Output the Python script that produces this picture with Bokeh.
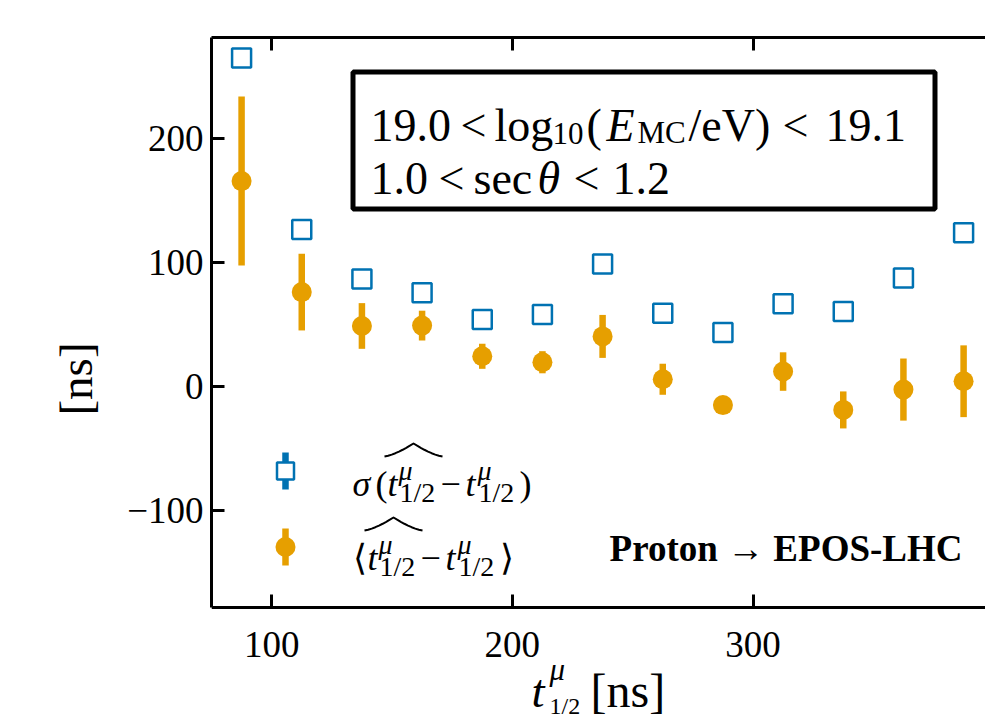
from bokeh.plotting import figure
from bokeh.models import LinearAxis, Label, BoxAnnotation, Range1d, FixedTicker
from bokeh.embed import file_html
from bokeh.resources import INLINE

# Bin centres of t_1/2^mu [ns]
t_half = [87.5, 112.5, 137.5, 162.5, 187.5, 212.5, 237.5,
          262.5, 287.5, 312.5, 337.5, 362.5, 387.5]
# Spread of the reconstructed minus true t_1/2 [ns]
sigma_res = [264.4, 126.3, 86.6, 75.4, 54.0, 57.9, 98.7,
             59.0, 43.4, 66.5, 60.3, 87.4, 123.7]
# Mean of the reconstructed minus true t_1/2 [ns] and its uncertainty
mean_res = [165.4, 76.0, 48.7, 49.0, 24.3, 19.5, 40.3,
            5.8, -15.0, 12.0, -18.9, -2.5, 4.2]
mean_err = [68.1, 30.9, 18.4, 12.0, 10.1, 8.9, 17.3,
            12.5, 5.0, 15.5, 14.9, 25.0, 28.9]

x_ticks = [100, 200, 300, 400]
y_ticks = [-100, 0, 100, 200]

BLUE = "#0072B2"
ORANGE = "#E69F00"
SERIF = "Liberation Serif"

W, H = 985, 720
# frame box in page pixels; the axes box ends at AXB, the frame runs on to the page bottom
FL, FR, FT, AXB = 211, 985, 37, 607
X0, X1 = 75.0, 396.6
Y0, Y1 = -178.0, 281.0
UPP = (Y1 - Y0) / (AXB - FT)          # data units per pixel (vertical)
YB = Y0 - (H - AXB) * UPP              # data value at the page bottom


def dx(px):
    return X0 + (px - FL) / (FR - FL) * (X1 - X0)


def dy(py):
    return Y1 - (py - FT) * UPP


p = figure(width=W, height=H, x_range=Range1d(X0, X1), y_range=Range1d(YB, Y1),
           output_backend="svg", toolbar_location=None, x_axis_location=None,
           min_border_left=FL, min_border_right=0, min_border_top=FT,
           min_border_bottom=0)
p.outline_line_color = None
p.xgrid.visible = False
p.ygrid.visible = False
p.background_fill_color = "white"
p.border_fill_color = "white"

bottom_axis = LinearAxis(fixed_location=Y0, ticker=FixedTicker(ticks=x_ticks))
p.add_layout(bottom_axis, "below")
top_axis = LinearAxis(ticker=FixedTicker(ticks=x_ticks))
p.add_layout(top_axis, "above")
left_axis = p.yaxis[0]
left_axis.ticker = FixedTicker(ticks=y_ticks)
left_axis.bounds = (Y0, Y1)

for ax in [bottom_axis, top_axis, left_axis]:
    ax.axis_line_width = 3
    ax.axis_line_color = "black"
    ax.major_tick_in = 13
    ax.major_tick_out = 0
    ax.major_tick_line_width = 3
    ax.major_tick_line_color = "black"
    ax.minor_tick_line_color = None
    ax.major_label_text_font = SERIF
    ax.major_label_text_font_size = "37px"
    ax.major_label_text_color = "black"

top_axis.major_label_overrides = {t: "" for t in x_ticks}
top_axis.major_label_standoff = 0
left_axis.major_label_overrides = {-100: "\u2212100"}
bottom_axis.major_label_standoff = 24
left_axis.major_label_standoff = 8

left_axis.axis_label = "[ns]"
left_axis.axis_label_text_font = SERIF
left_axis.axis_label_text_font_size = "47px"
left_axis.axis_label_text_font_style = "normal"
left_axis.axis_label_text_color = "black"
left_axis.axis_label_standoff = 22

# data
lo = [m - e for m, e in zip(mean_res, mean_err)]
hi = [m + e for m, e in zip(mean_res, mean_err)]
p.scatter(t_half, sigma_res, marker="square", size=19, fill_color="white",
          line_color=BLUE, line_width=2.5)
p.segment(x0=t_half, y0=lo, x1=t_half, y1=hi, line_color=ORANGE,
          line_width=6.5, line_cap="butt")
p.scatter(t_half, mean_res, marker="circle", size=20, fill_color=ORANGE,
          line_color=None)


def tex(text, px, py, size, style="normal", align="left"):
    p.add_layout(Label(x=dx(px), y=dy(py), text=text, text_font=SERIF,
                       text_font_size=f"{size}px", text_font_style=style,
                       text_baseline="alphabetic", text_align=align,
                       text_color="black"))


def wide_hat(x_left, x_right, y_base, y_peak, n=8):
    """Slightly concave circumflex accent spanning x_left..x_right (page px)."""
    xs, ys = [], []
    xm = 0.5 * (x_left + x_right)
    for i in range(n + 1):
        f = i / n
        xs.append(x_left + f * (xm - x_left))
        ys.append(y_base - (y_base - y_peak) * f ** 1.4)
    for i in range(n - 1, -1, -1):
        f = i / n
        xs.append(x_right - f * (x_right - xm))
        ys.append(y_base - (y_base - y_peak) * f ** 1.4)
    p.line(x=[dx(v) for v in xs], y=[dy(v) for v in ys], line_color="black",
           line_width=2, line_join="round")


# energy / zenith selection box
p.add_layout(BoxAnnotation(left=dx(352.5), right=dx(934.5), top=dy(71.5),
                           bottom=dy(208.5), fill_color="white", fill_alpha=1.0,
                           line_color="black", line_alpha=1.0, line_width=5))
F, S = 46, 31
tex("19.0", 370, 125, F)
tex("<", 460, 125, F)
tex("log", 494, 125, F)
tex("10", 552, 133, S)
tex("(", 586, 125, F)
tex("E", 606, 125, F, "italic")
tex("MC", 637, 132, S)
tex("/eV)", 688, 125, F)
tex("<", 782, 125, F)
tex("19.1", 825, 125, F)
tex("1.0", 370, 178, F)
tex("<", 438, 178, F)
tex("sec", 473, 178, F)
tex("\u03b8", 537, 178, F, "italic")
tex("<", 573, 178, F)
tex("1.2", 612, 178, F)

# legend keys
LEG_X = 285
p.segment(x0=[dx(LEG_X)], y0=[dy(489)], x1=[dx(LEG_X)], y1=[dy(452)],
          line_color=BLUE, line_width=6.5, line_cap="butt")
p.scatter([dx(LEG_X)], [dy(470.5)], marker="square", size=17, fill_color="white",
          line_color=BLUE, line_width=2.5)
p.segment(x0=[dx(LEG_X)], y0=[dy(565)], x1=[dx(LEG_X)], y1=[dy(528)],
          line_color=ORANGE, line_width=6.5, line_cap="butt")
p.scatter([dx(LEG_X)], [dy(546.5)], marker="circle", size=20, fill_color=ORANGE,
          line_color=None)

# legend texts
L, s = 36, 28
b1 = 483
tex("\u03c3", 352, b1, L, "italic")
tex("(", 375, b1, L)
tex("t", 387, b1, L, "italic")
tex("\u03bc", 398, b1 - 13, s, "italic")
tex("1/2", 399, b1 + 9, s)
tex("\u2212", 440, b1, L)
tex("t", 465, b1, L, "italic")
tex("\u03bc", 477, b1 - 13, s, "italic")
tex("1/2", 478, b1 + 9, s)
tex(")", 519, b1, L)
wide_hat(384, 442, 456, 443)

b2 = 557
tex("\u27e8", 352, b2, L)
tex("t", 367, b2, L, "italic")
tex("\u03bc", 378, b2 - 13, s, "italic")
tex("1/2", 379, b2 + 9, s)
tex("\u2212", 420, b2, L)
tex("t", 445, b2, L, "italic")
tex("\u03bc", 457, b2 - 13, s, "italic")
tex("1/2", 458, b2 + 9, s)
tex("\u27e9", 499, b2, L)
wide_hat(364, 422, 530, 517)

tex("Proton \u2192 EPOS-LHC", 962, 548, 37, "bold", "right")

# x axis title
tex("t", 531, 690, 47, "italic")
tex("\u03bc", 549, 669, 31, "italic")
tex("1/2", 549, 705, 24)
tex("[ns]", 590, 690, 48)

open("out.html", "w").write(file_html(p, INLINE))
